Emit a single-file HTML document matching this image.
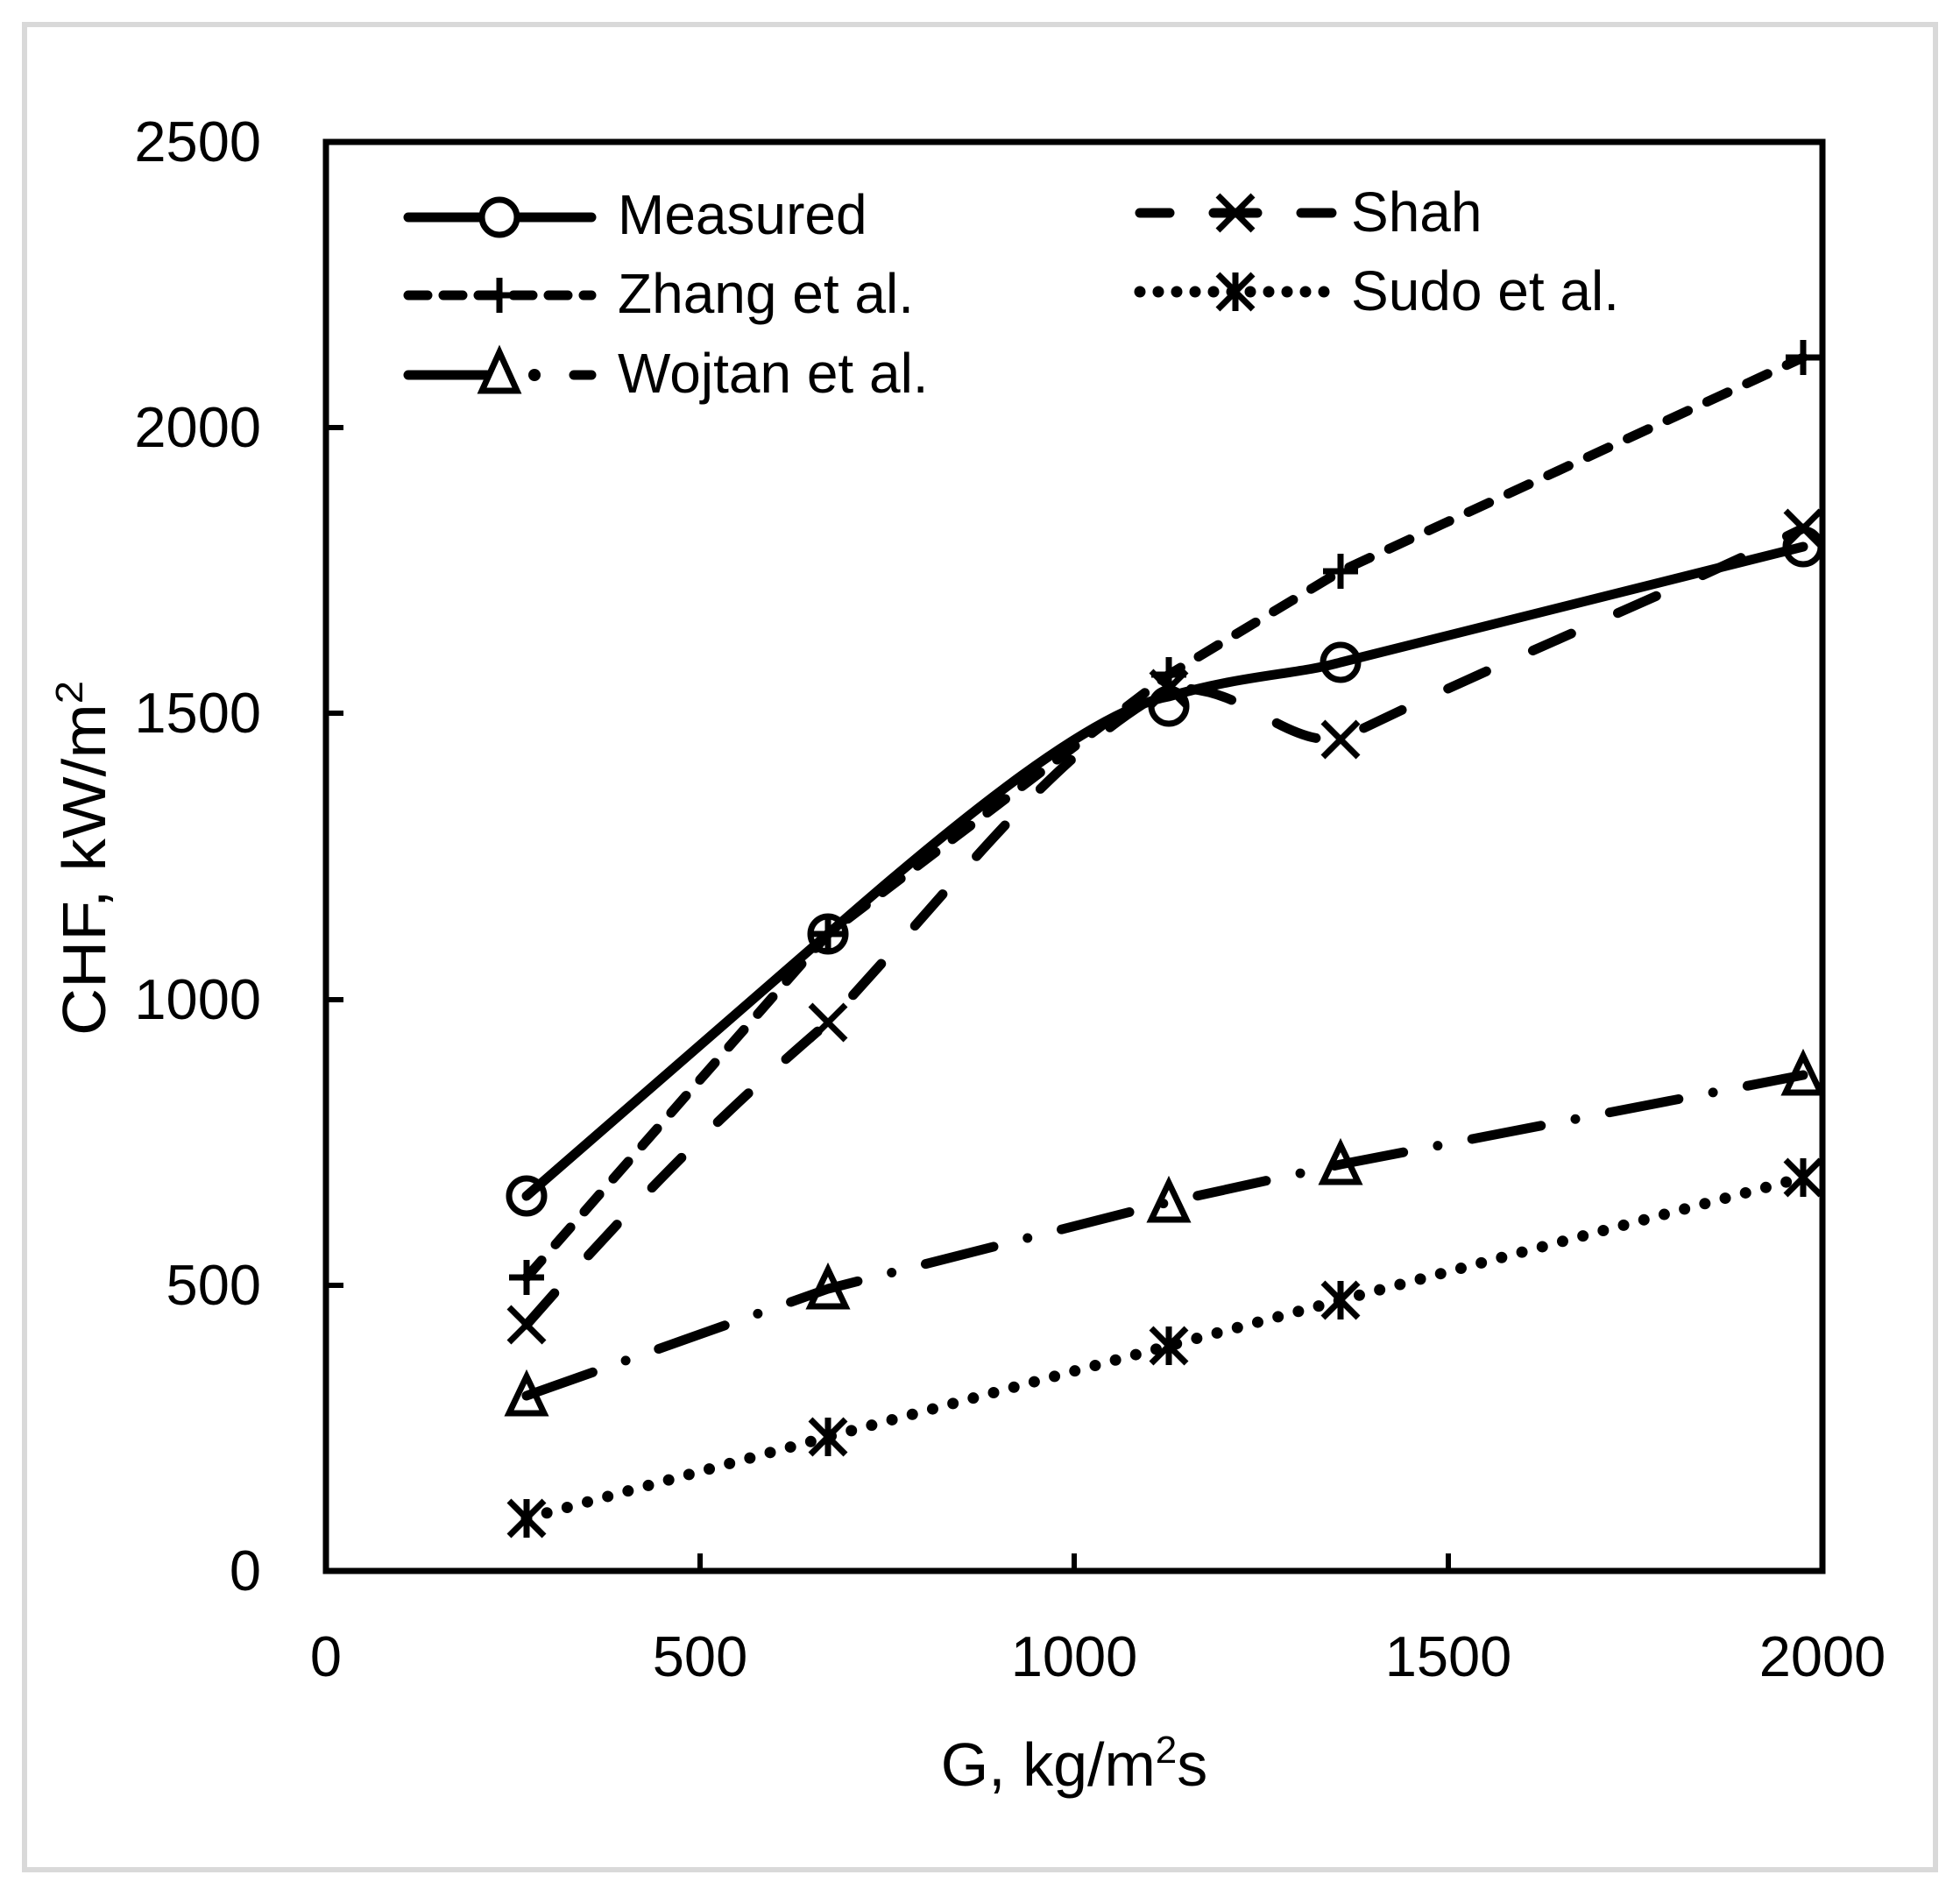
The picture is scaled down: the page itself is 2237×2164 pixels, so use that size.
<!DOCTYPE html>
<html><head><meta charset="utf-8"><style>html,body{margin:0;padding:0;background:#fff}svg{display:block}</style></head>
<body>
<svg width="2237" height="2164" viewBox="0 0 2237 2164" xmlns="http://www.w3.org/2000/svg" font-family="'Liberation Sans', sans-serif">
<rect x="0" y="0" width="2237" height="2164" fill="#fff"/>
<rect x="28" y="28" width="2181" height="2106" fill="none" stroke="#d9d9d9" stroke-width="6"/>
<rect x="372" y="162" width="1708" height="1631" fill="none" stroke="#000" stroke-width="7"/>
<g stroke="#000" stroke-width="6">
<line x1="372" y1="1467" x2="392" y2="1467"/><line x1="372" y1="1141" x2="392" y2="1141"/>
<line x1="372" y1="814" x2="392" y2="814"/><line x1="372" y1="488" x2="392" y2="488"/>
<line x1="799" y1="1793" x2="799" y2="1773"/><line x1="1226" y1="1793" x2="1226" y2="1773"/>
<line x1="1653" y1="1793" x2="1653" y2="1773"/>
</g>
<g font-size="65" fill="#000" text-anchor="end">
<text x="298" y="1815">0</text><text x="298" y="1489">500</text><text x="298" y="1163">1000</text>
<text x="298" y="836">1500</text><text x="298" y="510">2000</text><text x="298" y="184">2500</text>
</g>
<g font-size="65" fill="#000" text-anchor="middle">
<text x="372" y="1913">0</text><text x="799" y="1913">500</text><text x="1226" y="1913">1000</text>
<text x="1653" y="1913">1500</text><text x="2080" y="1913">2000</text>
</g>
<text x="1226" y="2038" font-size="70" text-anchor="middle">G, kg/m<tspan font-size="44" dy="-26">2</tspan><tspan dy="26">s</tspan></text>
<text transform="translate(120,1182) rotate(-90)" font-size="70" textLength="405" lengthAdjust="spacingAndGlyphs">CHF, kW/m<tspan font-size="44" dy="-26">2</tspan></text>

<g fill="none" stroke="#000" stroke-width="11" stroke-linecap="round" stroke-linejoin="round">
<polyline points="601,1733 945,1640 1334,1536 1530,1484 2058,1344" stroke-width="13" stroke-dasharray="0 24"/>
<polyline points="601,1593 945,1471 1334,1372 1530,1329 2058,1227" stroke-dasharray="80 40 0 40"/>
<path d="M601,1512 C760,1330 860,1240 945,1167 C1100,1000 1200,860 1334,786 C1420,780 1460,850 1530,844 C1700,760 1900,680 2058,603" stroke-dasharray="48 58"/>
<polyline points="601,1458 945,1066 1334,770 1530,652 2058,408" stroke-dasharray="26 24"/>
<path d="M601,1365 L945,1066 C1100,930 1250,810 1334,795 C1420,770 1480,770 1530,756 L2058,624"/>
</g>
<g fill="none" stroke="#000" stroke-width="7">
<circle cx="601" cy="1365" r="20"/><circle cx="945" cy="1066" r="20"/><circle cx="1334" cy="806" r="20"/><circle cx="1530" cy="756" r="20"/><circle cx="2058" cy="624" r="20"/>
<path d="M581,1458h40M601,1438v40 M925,1066h40M945,1046v40 M1314,770h40M1334,750v40 M1510,652h40M1530,632v40 M2038,408h40M2058,388v40"/>
<path d="M581,1492l40,40M621,1492l-40,40 M925,1147l40,40M965,1147l-40,40 M1314,766l40,40M1354,766l-40,40 M1510,824l40,40M1550,824l-40,40 M2038,583l40,40M2078,583l-40,40"/>
<path d="M601,1571 L581,1613 L621,1613Z M945,1449 L925,1491 L965,1491Z M1334,1350 L1314,1392 L1354,1392Z M1530,1307 L1510,1349 L1550,1349Z M2058,1205 L2038,1247 L2078,1247Z"/>
<path d="M581,1713l40,40M621,1713l-40,40M601,1711v44 M925,1620l40,40M965,1620l-40,40M945,1618v44 M1314,1516l40,40M1354,1516l-40,40M1334,1514v44 M1510,1464l40,40M1550,1464l-40,40M1530,1462v44 M2038,1324l40,40M2078,1324l-40,40M2058,1322v44"/>
</g>

<g fill="none" stroke="#000" stroke-width="11" stroke-linecap="round">
<line x1="466" y1="248" x2="675" y2="248"/>
<line x1="466" y1="337" x2="675" y2="337" stroke-dasharray="22 18"/>
<line x1="466" y1="428" x2="556" y2="428"/>
<line x1="655" y1="428" x2="675" y2="428"/>
<line x1="1301" y1="243" x2="1335" y2="243"/><line x1="1385" y1="243" x2="1435" y2="243"/><line x1="1485" y1="243" x2="1520" y2="243"/>
<line x1="1301" y1="333" x2="1520" y2="333" stroke-width="13" stroke-dasharray="0 21"/>
</g>
<circle cx="610" cy="428" r="7" fill="#000"/>
<g fill="none" stroke="#000" stroke-width="7">
<circle cx="570" cy="248" r="20" fill="#fff"/>
<path d="M550,337h40M570,317v40"/>
<path d="M570,402 L550,446 L590,446Z" fill="#fff"/>
<path d="M1390,223l40,40M1430,223l-40,40"/>
<path d="M1390,313l40,40M1430,313l-40,40M1410,311v44"/>
</g>
<g font-size="64" fill="#000">
<text x="705" y="267">Measured</text>
<text x="705" y="357">Zhang et al.</text>
<text x="705" y="448">Wojtan et al.</text>
<text x="1542" y="264">Shah</text>
<text x="1542" y="354">Sudo et al.</text>
</g>
</svg>
</body></html>
